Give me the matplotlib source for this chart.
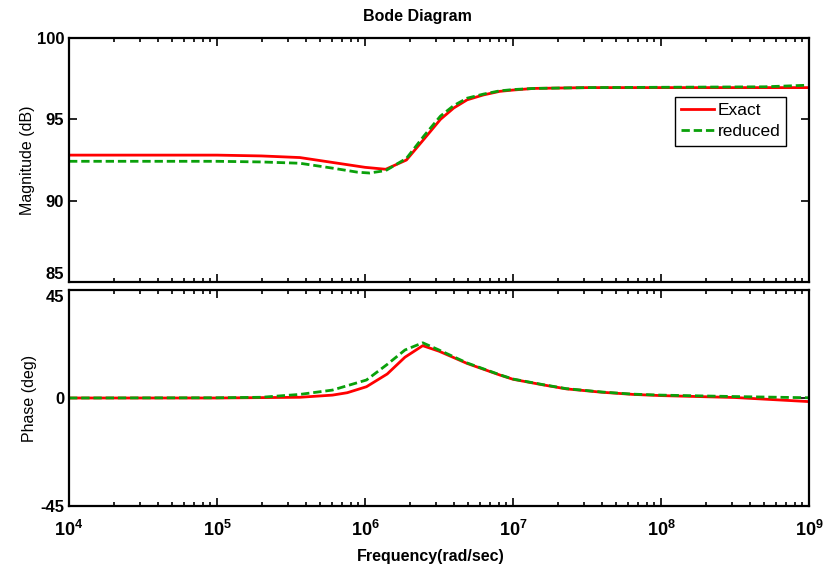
import numpy as np
import matplotlib.pyplot as plt
from matplotlib.ticker import FixedLocator, FuncFormatter, LogLocator, NullFormatter

plt.rcParams['font.family'] = ['Liberation Sans', 'DejaVu Sans']
plt.rcParams['mathtext.fontset'] = 'custom'
plt.rcParams['mathtext.rm'] = 'Liberation Sans:bold'
plt.rcParams['mathtext.bf'] = 'Liberation Sans:bold'
plt.rcParams['axes.unicode_minus'] = False

# --- magnitude (dB), log10 of frequency ---
mag_logw_exact = [4.0, 5.0, 5.3, 5.56, 5.78, 6.0, 6.14, 6.28, 6.4, 6.51, 6.6,
                  6.69, 6.8, 6.91, 7.0, 7.14, 7.5, 8.0, 9.0]
mag_exact = [92.8, 92.8, 92.75, 92.65, 92.35, 92.05, 91.93, 92.5, 93.8, 95.0, 95.7,
             96.2, 96.5, 96.72, 96.8, 96.9, 96.95, 96.95, 96.95]

mag_logw_red = [4.0, 5.0, 5.3, 5.56, 5.78, 5.95, 6.03, 6.14, 6.28, 6.4, 6.51, 6.6,
                6.69, 6.8, 6.91, 7.0, 7.14, 7.5, 8.0, 8.7, 9.0]
mag_red = [92.42, 92.42, 92.38, 92.3, 92.0, 91.75, 91.7, 91.85, 92.6, 94.0, 95.2, 95.85,
           96.3, 96.55, 96.75, 96.83, 96.9, 96.95, 96.97, 97.0, 97.1]

# --- phase (deg) ---
ph_logw_exact = [4.0, 5.0, 5.56, 5.78, 5.88, 6.01, 6.15, 6.27, 6.39, 6.5, 6.69, 6.91,
                 7.0, 7.2, 7.36, 7.6, 7.81, 8.0, 8.5, 9.0]
ph_exact = [0, 0, 0.3, 1.2, 2.2, 4.7, 10.0, 17.0, 21.8, 19.5, 14.4, 9.6,
            7.8, 5.5, 3.8, 2.4, 1.5, 1.0, 0.2, -1.5]

ph_logw_red = [4.0, 5.0, 5.3, 5.56, 5.78, 6.01, 6.15, 6.27, 6.39, 6.5, 6.69, 6.91,
               7.0, 7.2, 7.36, 7.6, 7.81, 8.0, 8.5, 9.0]
ph_red = [0, 0.1, 0.3, 1.5, 3.3, 7.5, 14.0, 20.0, 23.0, 20.0, 14.6, 9.7,
          7.9, 5.6, 3.9, 2.5, 1.6, 1.2, 0.6, 0.1]

W, H = 825, 569
fig = plt.figure(figsize=(W / 100, H / 100), dpi=100)
ax1 = fig.add_axes([69 / W, 1 - 282 / H, 740 / W, 244 / H])
ax2 = fig.add_axes([69 / W, 1 - 506 / H, 740 / W, 216 / H])

red = '#ff0000'
green = '#0aa00a'
dash = (0, (3, 1.4))

ax1.plot(10 ** np.array(mag_logw_exact), mag_exact, color=red, lw=2, label='Exact')
ax1.plot(10 ** np.array(mag_logw_red), mag_red, color=green, lw=2, ls=dash, label='reduced')
ax2.plot(10 ** np.array(ph_logw_exact), ph_exact, color=red, lw=2)
ax2.plot(10 ** np.array(ph_logw_red), ph_red, color=green, lw=2, ls=dash)

ax1.set_ylim(85, 100)
ax1.set_yticks([85, 90, 95, 100])
ax2.set_ylim(-45, 45)
ax2.set_yticks([-45, 0, 45])

for ax in (ax1, ax2):
    ax.set_xscale('log')
    ax.set_xlim(1e4, 1e9)
    ax.xaxis.set_major_locator(FixedLocator([1e4, 1e5, 1e6, 1e7, 1e8, 1e9]))
    ax.xaxis.set_minor_locator(LogLocator(base=10, subs=np.arange(2, 10), numticks=20))
    ax.xaxis.set_minor_formatter(NullFormatter())
    ax.tick_params(which='both', direction='in', top=True, right=True, width=1.2)
    ax.tick_params(which='major', length=6, labelsize=12)
    ax.tick_params(which='minor', length=3)
    for s in ax.spines.values():
        s.set_linewidth(1.6)
    for lab in ax.get_yticklabels():
        lab.set_fontweight('bold')

# the 85 / 45 labels meet at the gap between the panels
ax1.get_yticklabels()[0].set_va('bottom')
ax2.get_yticklabels()[-1].set_va('top')

ax1.tick_params(labelbottom=False)
ax2.xaxis.set_major_formatter(FuncFormatter(lambda v, p: r'$\mathbf{10^{%d}}$' % round(np.log10(v))))
ax2.tick_params(axis='x', pad=10, labelsize=13)

ax1.set_ylabel('Magnitude (dB)', fontsize=11.5)
ax2.set_ylabel('Phase (deg)', fontsize=11.5)
ax1.yaxis.set_label_coords((35 - 69) / 740, 0.5)
ax2.yaxis.set_label_coords((37 - 69) / 740, 0.5)

fig.text(417 / W, 1 - 17 / H, 'Bode Diagram', ha='center', va='center', fontsize=11.5, fontweight='bold')
fig.text(431 / W, 1 - 556 / H, 'Frequency(rad/sec)', ha='center', va='center', fontsize=11.5, fontweight='bold')

leg = ax1.legend(loc='upper left', bbox_to_anchor=((675 - 69) / 740, (282 - 97) / 244),
                 borderaxespad=0, fancybox=False, edgecolor='black', framealpha=1,
                 fontsize=12.5, handlelength=1.9, handletextpad=0.2, borderpad=0.35,
                 labelspacing=0.35)
leg.get_frame().set_linewidth(1.0)

fig.savefig('out.png', dpi=100)
